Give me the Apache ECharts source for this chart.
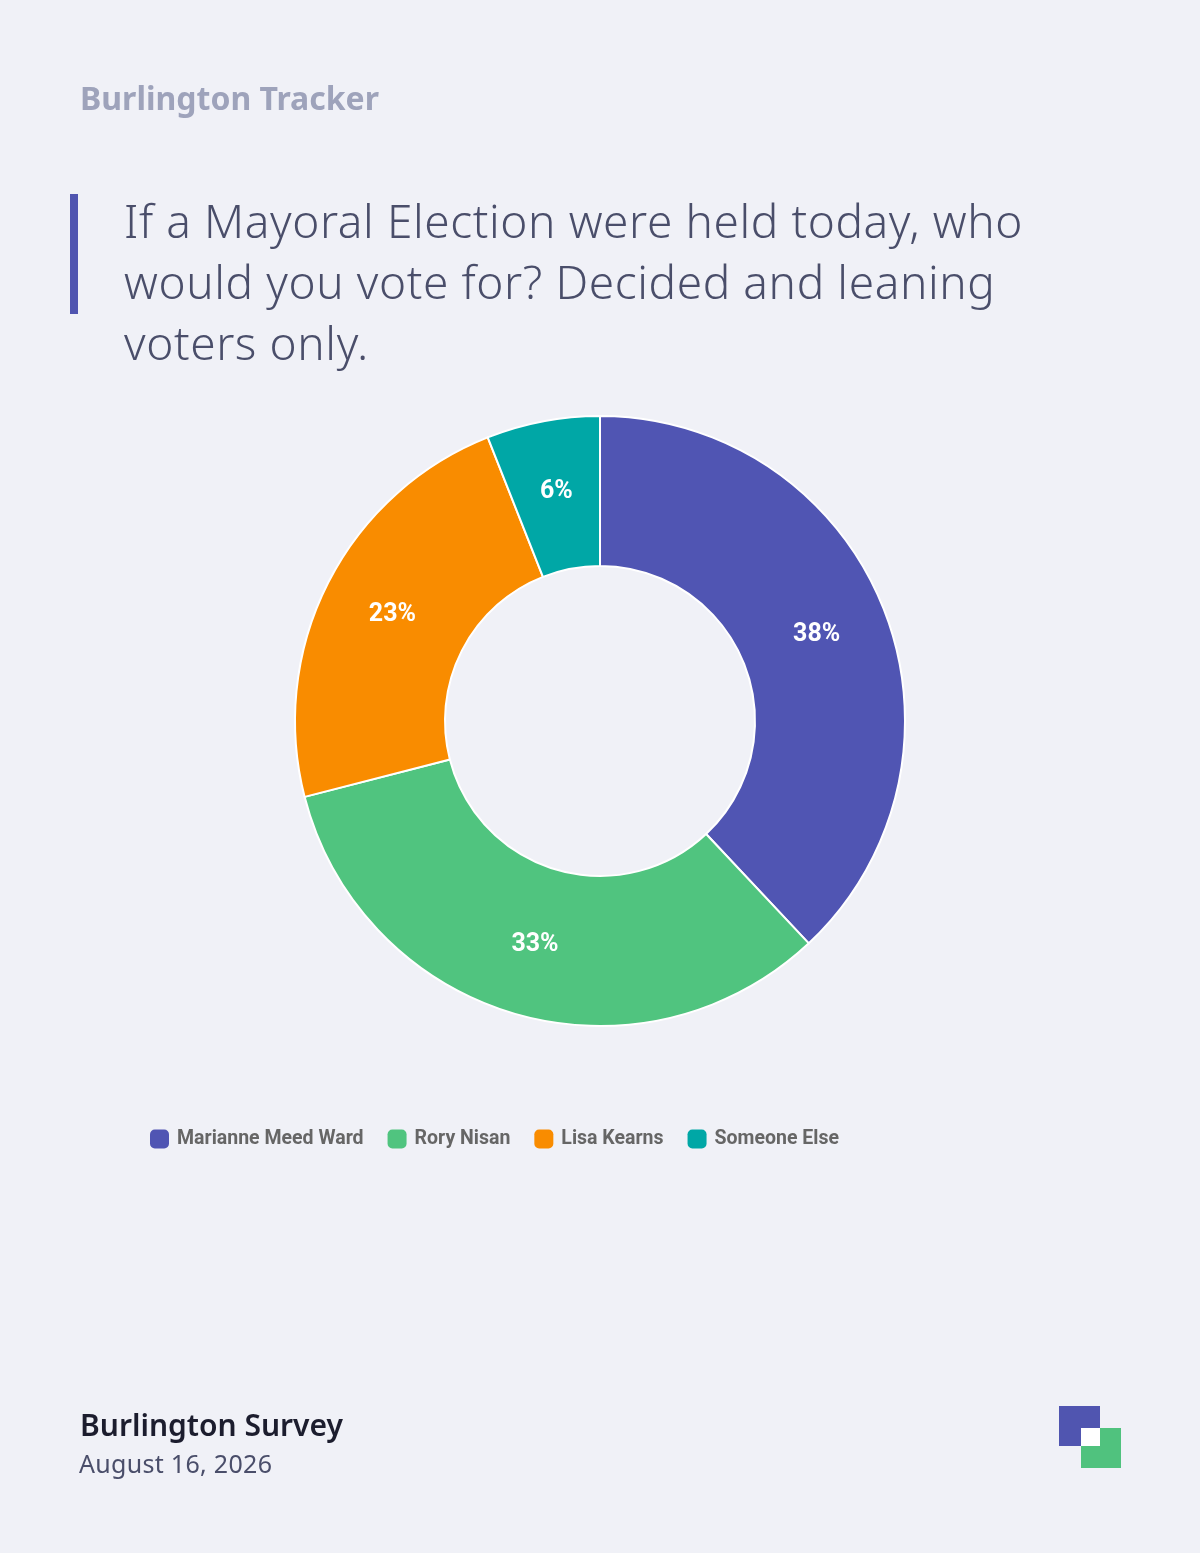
<!DOCTYPE html>
<html><head><meta charset="utf-8">
<script src="https://cdn.jsdelivr.net/npm/echarts@6/dist/echarts.min.js"></script>
<style>
body{margin:0;background:#f0f1f7;}
#wrap{position:relative;width:1200px;height:1553px;overflow:hidden;font-family:"Noto Sans",sans-serif;}
#chart{position:absolute;left:0;top:0;width:1200px;height:1553px;}
.t{position:absolute;}
</style></head><body>
<div id="wrap">
<div id="chart"></div>
<div class="t" style="left:80px;top:76px;font-size:32px;font-weight:700;color:#9ea3bb;">Burlington Tracker</div>
<div class="t" style="left:70px;top:194px;width:8px;height:120px;background:#5055b0;"></div>
<div class="t" style="left:124px;top:190px;width:960px;font-size:46px;font-weight:300;line-height:61px;color:#4a4e6a;letter-spacing:0.6px;">If a Mayoral Election were held today, who would you vote for? Decided and leaning voters only.</div>
<div class="t" style="left:80px;top:1404px;font-size:30px;font-weight:600;color:#1c1d2e;">Burlington Survey</div>
<div class="t" style="left:79px;top:1446px;font-size:25px;color:#4a4e6a;letter-spacing:0.3px;">August 16, 2026</div>
<div class="t" style="left:1059px;top:1406px;width:41px;height:40px;background:#5055b0;"></div>
<div class="t" style="left:1081px;top:1428px;width:40px;height:40px;background:#50c27e;"></div>
<div class="t" style="left:1081px;top:1428px;width:19px;height:18px;background:#fff;"></div>
</div>
<script>
const categories=["Marianne Meed Ward","Rory Nisan","Lisa Kearns","Someone Else"];
const values=[38,33,23,6];
const colors=["#5055b3","#50c47f","#f98c00","#00a7a6"];
const chart=echarts.init(document.getElementById('chart'));
chart.setOption({
 backgroundColor:'transparent',
 color:colors,
 legend:{top:1124,left:145,itemWidth:19,itemHeight:19,itemGap:24,icon:'roundRect',
  itemStyle:{borderWidth:0},
  textStyle:{fontFamily:'Roboto',fontWeight:'bold',fontSize:19.5,color:'#666',padding:[0,0,0,3]},data:categories},
 series:[{type:'pie',center:[600,721],radius:[155,305],startAngle:90,clockwise:true,
  itemStyle:{borderColor:'#fff',borderWidth:2},
  label:{position:'inside',formatter:'{c}%',color:'#fff',fontFamily:'Roboto',fontWeight:'bold',fontSize:25},
  labelLine:{show:false},
  data:categories.map((c,i)=>({name:c,value:values[i]}))}]
});
</script>
</body></html>
